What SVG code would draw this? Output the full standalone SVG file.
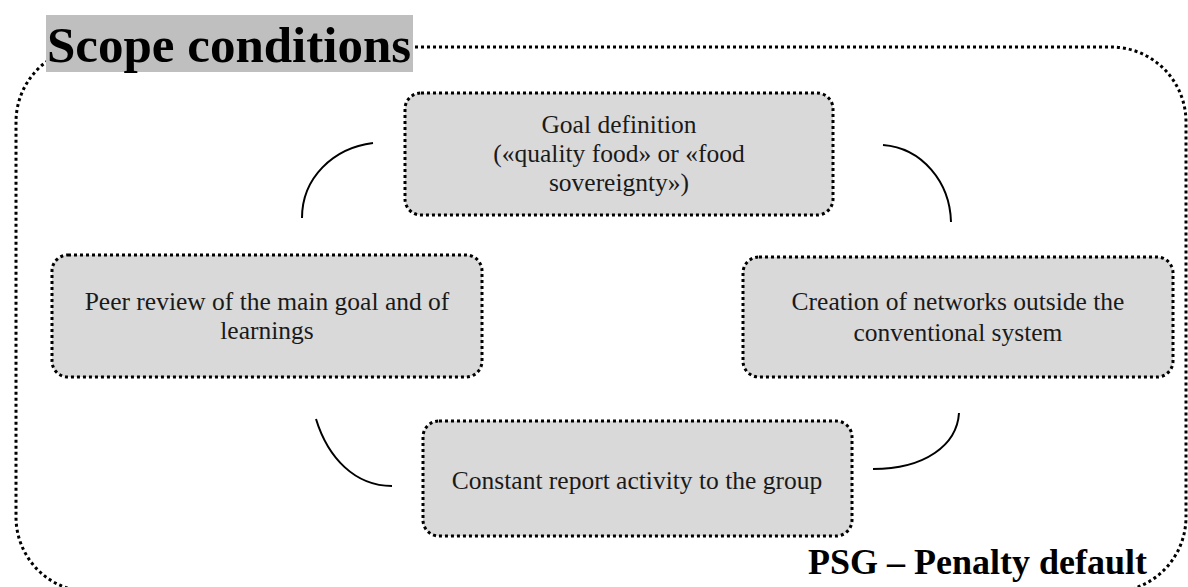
<svg xmlns="http://www.w3.org/2000/svg" width="1188" height="587" viewBox="0 0 1188 587">
<style>
.node{fill:#d9d9d9;stroke:#000;stroke-width:3;stroke-dasharray:3 3}
.outer{fill:none;stroke:#000;stroke-width:3;stroke-dasharray:3 3}
.lbl{font-family:'Liberation Serif','Times New Roman',serif;font-size:25.5px;fill:#1a1a1a;text-anchor:middle}
.title{font-family:'Liberation Serif','Times New Roman',serif;font-weight:bold;fill:#000}
.arc{fill:none;stroke:#000;stroke-width:2}
</style>
<rect width="1188" height="587" fill="#fff"/>
<g id="scope-border">
<rect class="outer" x="16" y="47" width="1170" height="545" rx="75" ry="75"/>
</g>
<g id="title">
<rect x="46" y="15" width="367" height="57" fill="#bfbfbf"/>
<text class="title" x="47" y="62" font-size="51">Scope conditions</text>
</g>
<g id="footer">
<text class="title" x="808" y="574" font-size="36">PSG – Penalty default</text>
</g>
<g id="connectors">
<path class="arc" d="M302,218 C302,178 333,148 373,143"/>
<path class="arc" d="M883,145 C922,148 950,182 951,222"/>
<path class="arc" d="M959,413 C957,445 925,469 873,469"/>
<path class="arc" d="M316,419 C328,458 355,486 392,486"/>
</g>
<g id="goal">
<rect class="node" x="405" y="93" width="428" height="122" rx="16"/>
<text class="lbl" x="619" y="133">Goal definition</text>
<text class="lbl" x="619" y="162">(«quality food» or «food</text>
<text class="lbl" x="619" y="191">sovereignty»)</text>
</g>
<g id="peer">
<rect class="node" x="52" y="255" width="430" height="122" rx="16"/>
<text class="lbl" x="267" y="310">Peer review of the main goal and of</text>
<text class="lbl" x="267" y="339">learnings</text>
</g>
<g id="networks">
<rect class="node" x="743" y="257" width="430" height="120" rx="16"/>
<text class="lbl" x="958" y="310">Creation of networks outside the</text>
<text class="lbl" x="958" y="341">conventional system</text>
</g>
<g id="report">
<rect class="node" x="423" y="421" width="429" height="115" rx="16"/>
<text class="lbl" x="637" y="489">Constant report activity to the group</text>
</g>
</svg>
